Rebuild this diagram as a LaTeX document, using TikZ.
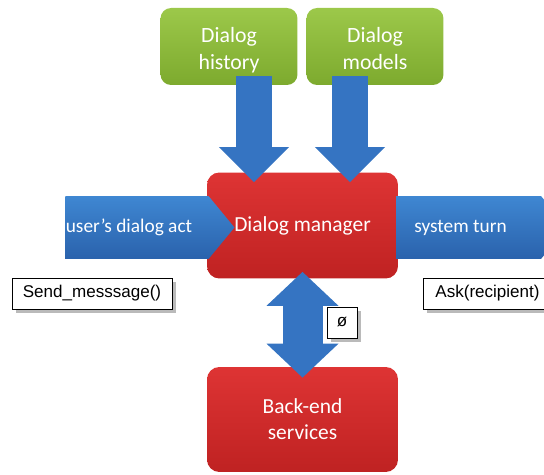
\documentclass[tikz,border=0pt]{standalone}
\usepackage{fontspec}
\setmainfont{Carlito}
\newfontfamily\boxfont{Liberation Sans}
\usetikzlibrary{arrows.meta,calc,shapes.arrows,shadows}

\definecolor{greentop}{HTML}{9CC84A}
\definecolor{greenbot}{HTML}{7DAA2E}
\definecolor{redtop}{HTML}{DE3434}
\definecolor{redbot}{HTML}{BF2222}
\definecolor{bluetop}{HTML}{3F87D2}
\definecolor{bluebot}{HTML}{2A62AC}
\definecolor{blueflow}{HTML}{3574C2}

\begin{document}
\begin{tikzpicture}[
    x=0.02cm,y=-0.02cm,
    base/.style={text=white,align=center,inner sep=0pt},
    G/.style={base,rounded corners=6pt,top color=greentop,bottom color=greenbot,
        minimum width=2.74cm,minimum height=1.54cm,font=\fontsize{12.4}{15.3}\selectfont,
        text height=29.7pt,text depth=3.1pt},
    R/.style={base,rounded corners=7pt,top color=redtop,bottom color=redbot,
        minimum width=3.82cm,minimum height=2.12cm,font=\fontsize{12.2}{14.8}\selectfont},
    flow/.style={base,single arrow,single arrow head extend=0pt,single arrow tip angle=101,
        top color=bluetop,bottom color=bluebot,minimum width=1.26cm,
        font=\fontsize{11}{13}\selectfont},
    pipe/.style={draw=blueflow,line width=0.72cm,-{Triangle[width=1.36cm,length=0.7cm]}},
    bipipe/.style={draw=blueflow,line width=0.8cm,
        {Triangle[width=1.4cm,length=0.68cm]}-{Triangle[width=1.4cm,length=0.68cm]}},
    labelnode/.style={draw,thin,fill=white,inner sep=0pt,minimum height=0.62cm,
        font=\boxfont\fontsize{9.7}{11}\selectfont,
        drop shadow={fill=black!60,opacity=0.45,shadow xshift=2pt,shadow yshift=-2pt}},
    ]
    \useasboundingbox (0,0) rectangle (544,475);

    \node[G] (hist) at (229,46.5) {Dialog\\history};
    \node[G] (models) at (375,46.5) {Dialog\\models};
    \node[R] (mgr) at (302.5,225.5) {Dialog manager};
    \node[R,minimum height=2.1cm] (back) at (302.5,419.5) {Back-end\\services};

    \draw[pipe] ($(hist.south)+(25,-9)$) -- ($(hist.south |- mgr.north)+(25,10)$);
    \draw[pipe] ($(models.south)+(-25,-9)$) -- ($(models.south |- mgr.north)+(-25,10)$);
    \draw[bipipe] ($(mgr.south)+(0,-7)$) -- ($(back.north)+(0,11)$);

    \node[flow,minimum height=3.36cm] (user) at (137,227.5) {user’s dialog act\hspace{0.32cm}};
    \node[flow,minimum height=3.42cm] (sys) at (468.5,227.5) {system turn\hspace{0.32cm}};

    \node[labelnode,minimum width=3.2cm] (send) at (92,293.5) {Send\_messsage()};
    \node[labelnode,minimum width=2.58cm] (ask) at (487.5,293.5) {Ask(recipient)};
    \node[labelnode,minimum width=0.6cm] (none) at (342,322.5) {ø};
\end{tikzpicture}
\end{document}
